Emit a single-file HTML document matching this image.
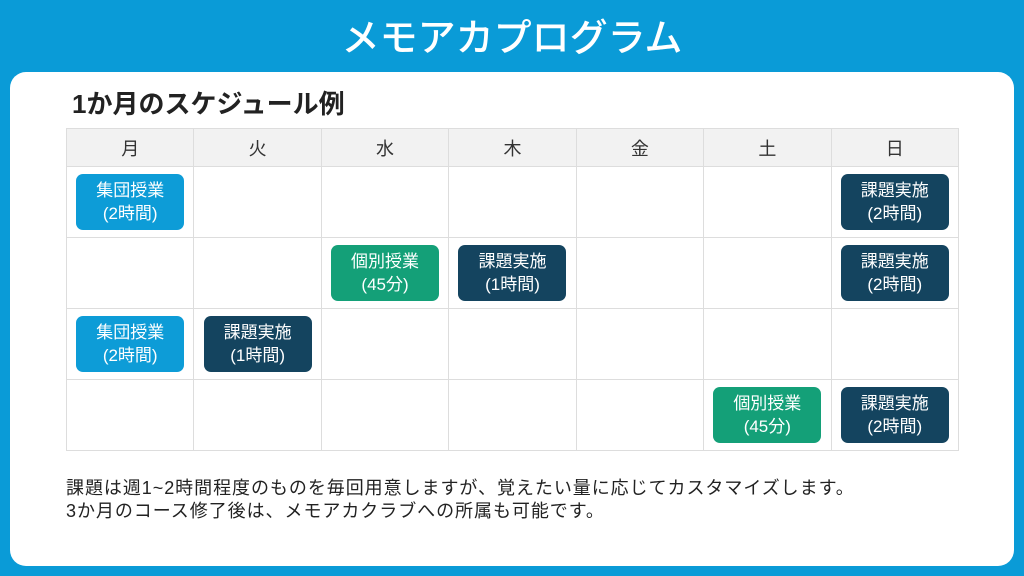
<!DOCTYPE html>
<html><head><meta charset="utf-8"><style>
body{margin:0;width:1024px;height:576px;background:#0a9bd7;font-family:"Liberation Sans","Noto Sans CJK JP",sans-serif;position:relative;overflow:hidden}
.t{position:absolute;top:14px;left:0;width:1024px;text-align:center;color:#fff;font-size:38px;font-weight:500;line-height:50px}
.p{position:absolute;left:10px;top:72px;width:1004px;height:494px;background:#fff;border-radius:16px}
.h{position:absolute;left:72px;top:87px;font-size:26px;font-weight:bold;color:#222;line-height:34px}
table{position:absolute;left:66px;top:128px;border-collapse:collapse;table-layout:fixed;width:893px}
td{border:1px solid #ddd;height:70px;padding:0;text-align:center;vertical-align:middle}
tr.hd td{background:#f2f2f2;height:37px;font-size:18px;color:#333}
.b{display:inline-block;width:108px;height:56px;border-radius:7px;color:#fff;font-size:17px;line-height:23px;padding-top:5px;box-sizing:border-box}
.bl{background:#0d9cd7}.dk{background:#14445f}.gr{background:#14a078}
.f{position:absolute;left:66px;top:477px;font-size:18px;letter-spacing:0.95px;line-height:23px;color:#222}
</style></head><body>
<div class="t">メモアカプログラム</div>
<div class="p"></div>
<div class="h">1か月のスケジュール例</div>
<table>
<tr class="hd"><td>月</td><td>火</td><td>水</td><td>木</td><td>金</td><td>土</td><td>日</td></tr>
<tr><td><div class="b bl">集団授業<br>(2時間)</div></td><td></td><td></td><td></td><td></td><td></td><td><div class="b dk">課題実施<br>(2時間)</div></td></tr>
<tr><td></td><td></td><td><div class="b gr">個別授業<br>(45分)</div></td><td><div class="b dk">課題実施<br>(1時間)</div></td><td></td><td></td><td><div class="b dk">課題実施<br>(2時間)</div></td></tr>
<tr><td><div class="b bl">集団授業<br>(2時間)</div></td><td><div class="b dk">課題実施<br>(1時間)</div></td><td></td><td></td><td></td><td></td><td></td></tr>
<tr><td></td><td></td><td></td><td></td><td></td><td><div class="b gr">個別授業<br>(45分)</div></td><td><div class="b dk">課題実施<br>(2時間)</div></td></tr>
</table>
<div class="f">課題は週1~2時間程度のものを毎回用意しますが、覚えたい量に応じてカスタマイズします。<br>3か月のコース修了後は、メモアカクラブへの所属も可能です。</div>
</body></html>
